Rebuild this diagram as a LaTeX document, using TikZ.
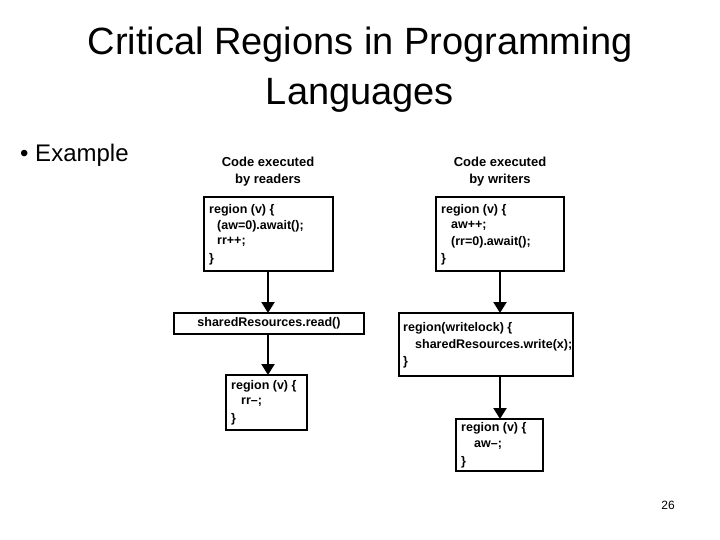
\documentclass[tikz,border=0pt]{standalone}
\usepackage{fontspec}
\setmainfont{Liberation Sans}
\usetikzlibrary{arrows.meta}
\begin{document}
\begin{tikzpicture}[x=1pt,y=-1pt,
  box/.style={draw=black,line width=2pt},
  code/.style={anchor=west,inner sep=0pt,font=\fontsize{12.5}{14}\selectfont\bfseries},
  head/.style={align=center,inner sep=0pt,font=\fontsize{13}{17}\selectfont\bfseries},
  arr/.style={line width=2.2pt,-{Triangle[length=11pt,width=13pt]}}]
\useasboundingbox (0,0) rectangle (720,540);
\node[font=\fontsize{38}{50}\selectfont,align=center] (title) at (360,70) {Critical Regions in Programming\\Languages};
\node[anchor=west,font=\fontsize{24}{28}\selectfont,inner sep=0pt] (ex) at (20,155) {\textbullet\ Example};
\node[font=\fontsize{12}{14}\selectfont] (pg) at (668,505) {26};
\node[head] (hr) at (268,172) {Code executed\\by readers};
\node[head] (hw) at (500,172) {Code executed\\by writers};
% readers
\draw[box] (204,197) rectangle (333,271);
\coordinate (r1t) at (268,271);
\node[code] (r1a) at (209,210) {region (v) \{};
\node[code] (r1b) at (217,226) {(aw=0).await();};
\node[code] (r1c) at (217,242) {rr++;};
\node[code] (r1d) at (209,259) {\}};
\draw[box] (174,313) rectangle (364,334);
\node[font=\fontsize{12.5}{14}\selectfont\bfseries,inner sep=0pt] (r2) at (269,323.5) {sharedResources.read()};
\coordinate (r2t) at (268,313); \coordinate (r2b) at (268,334);
\draw[box] (226,375) rectangle (307,430);
\coordinate (r3t) at (268,375);
\node[code] (r3a) at (231,386) {region (v) \{};
\node[code] (r3b) at (241,402) {rr--;};
\node[code] (r3c) at (231,419) {\}};
\draw[arr] (r1t) -- (r2t);
\draw[arr] (r2b) -- (r3t);
% writers
\draw[box] (436,197) rectangle (564,271);
\coordinate (w1t) at (500,271);
\node[code] (w1a) at (441,210) {region (v) \{};
\node[code] (w1b) at (451,226) {aw++;};
\node[code] (w1c) at (451,242) {(rr=0).await();};
\node[code] (w1d) at (441,259) {\}};
\draw[box] (399,313) rectangle (573,376);
\coordinate (w2t) at (500,313); \coordinate (w2b) at (500,376);
\node[code] (w2a) at (403,328) {region(writelock) \{};
\node[code] (w2b0) at (415,345) {sharedResources.write(x);};
\node[code] (w2c) at (403,362) {\}};
\draw[box] (456,419) rectangle (543,471);
\coordinate (w3t) at (500,419);
\node[code] (w3a) at (461,428) {region (v) \{};
\node[code] (w3b) at (474,445) {aw--;};
\node[code] (w3c) at (461,462) {\}};
\draw[arr] (w1t) -- (w2t);
\draw[arr] (w2b) -- (w3t);
\end{tikzpicture}
\end{document}
